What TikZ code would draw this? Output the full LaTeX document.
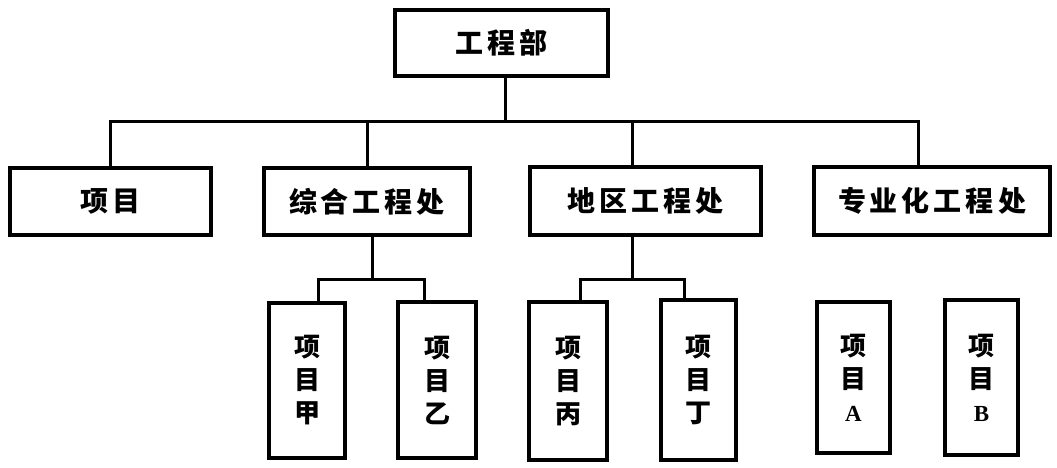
\documentclass[tikz,border=0pt]{standalone}
\usepackage{fontspec}
\newfontfamily\cjk{Noto Sans CJK SC}
\setmainfont{Liberation Serif}
\newcommand{\gp}{\hspace{4pt}}
\tikzset{
  box/.style={draw=black, line width=4pt, inner sep=0pt, font=\cjk\bfseries\fontsize{28pt}{30pt}\selectfont},
  vbox/.style={draw=black, line width=4pt, inner sep=0pt, align=center, font=\cjk\bfseries\fontsize{26pt}{33pt}\selectfont},
  conn/.style={draw=black, line width=3pt}
}
\begin{document}
\begin{tikzpicture}[x=1pt,y=-1pt]
\useasboundingbox (0,0) rectangle (1057,467);
% top
\node[box, minimum width=213pt, minimum height=66pt] (top) at (501.5,42.5) {工\gp 程\gp 部};
% level 2
\node[box, minimum width=201pt, minimum height=67pt] (xm) at (110.5,201.5) {项\gp 目};
\node[box, minimum width=206pt, minimum height=67pt] (zh) at (367,201.5) {综\gp 合\gp 工\gp 程\gp 处};
\node[box, minimum width=231pt, minimum height=68pt] (dq) at (645.5,201) {地\gp 区\gp 工\gp 程\gp 处};
\node[box, minimum width=236pt, minimum height=68pt] (zy) at (932,201) {专\gp 业\gp 化\gp 工\gp 程\gp 处};
% level 3
\node[vbox, minimum width=76pt, minimum height=155pt] (jia) at (307,380.5) {项\\目\\甲};
\node[vbox, minimum width=78pt, minimum height=156pt] (yi) at (437,380) {项\\目\\乙};
\node[vbox, minimum width=78pt, minimum height=158pt] (bing) at (568,381) {项\\目\\丙};
\node[vbox, minimum width=75pt, minimum height=160pt] (ding) at (698.5,380) {项\\目\\丁};
\node[vbox, minimum width=73pt, minimum height=151pt] (pa) at (853.5,377.5) {项\\目\\{\rmfamily\bfseries\fontsize{23pt}{33pt}\selectfont A}};
\node[vbox, minimum width=73pt, minimum height=155pt] (pb) at (981.5,377.5) {项\\目\\{\rmfamily\bfseries\fontsize{23pt}{33pt}\selectfont B}};
% main bus
\coordinate (bus) at (505,121);
\coordinate (busL) at (110.5,121);
\coordinate (busR) at (918,121);
\draw[conn] (top.south -| bus) -- (bus);
\draw[conn] (xm.north) -- (busL) -- (busR) -- (busR |- zy.north);
\draw[conn] (zh.north) -- (zh.north |- bus);
\coordinate (dqdrop) at (632,121);
\draw[conn] (dqdrop) -- (dqdrop |- dq.north);
% sub-bus zh
\coordinate (zhb) at (372,279);
\coordinate (zhL) at (318,279);
\coordinate (zhR) at (424,279);
\draw[conn] (zhb |- zh.south) -- (zhb);
\draw[conn] (zhL |- jia.north) -- (zhL) -- (zhR) -- (zhR |- yi.north);
% sub-bus dq
\coordinate (dqb) at (632,279);
\coordinate (dqL) at (580,279);
\coordinate (dqR) at (684,279);
\draw[conn] (dqb |- dq.south) -- (dqb);
\draw[conn] (dqL |- bing.north) -- (dqL) -- (dqR) -- (dqR |- ding.north);
\end{tikzpicture}
\end{document}
